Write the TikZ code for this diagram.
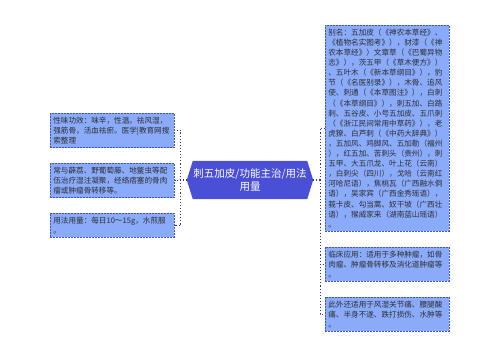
\documentclass[tikz,border=0pt]{standalone}
\usepackage{fontspec}
\newfontfamily\cjk{Noto Sans CJK SC}
\usetikzlibrary{backgrounds}
\definecolor{boxfill}{HTML}{8AAAFA}
\definecolor{boxline}{HTML}{3F55C8}
\definecolor{hubfill}{HTML}{4A4FD6}
\definecolor{linkcol}{HTML}{34387E}
\definecolor{txt}{HTML}{2E2E2E}

\begin{document}
\begin{tikzpicture}[x=1pt,y=-1pt,
  box/.style={anchor=north west,fill=boxfill,draw=boxline,dash pattern=on 2pt off 1pt,line width=0.7pt,
    text width=118pt,inner xsep=3pt,inner ysep=3.5pt,align=left,text=txt,
    font=\cjk\fontsize{7.6pt}{10.1pt}\selectfont},
  hub/.style={minimum width=114pt,minimum height=38pt,inner sep=0pt,align=center,text=white,
    font=\cjk\fontsize{10.5pt}{13.5pt}\selectfont},
  link/.style={draw=linkcol,dotted,line width=1.1pt}]
  \useasboundingbox (0,0) rectangle (500,360);
  \node[hub] (hub) at (250,180) {刺五加皮/功能主治/用法\\用量};
  \coordinate (hw) at ([xshift=-6pt]hub.west);
  \coordinate (he) at ([xshift=6pt]hub.east);
  \begin{scope}[on background layer]
    \fill[hubfill] (hw) -- (hub.north west) -- (hub.north east) -- (he) -- (hub.south east) -- (hub.south west) -- cycle;
  \end{scope}
  \node[box] (l1) at (50,113) {性味功效：味辛，性温。祛风湿，\\强筋骨，活血祛瘀。医学|教育网搜\\索整理};
  \node[box] (l2) at (50,163) {常与薜荔、野葡萄藤、地鳖虫等配\\伍治疗湿注凝聚，经络痞塞的骨肉\\瘤或肿瘤骨转移等。};
  \node[box] (l3) at (50,213) {用法用量：每日10～15g，水煎服\\。};
  \node[box] (r1) at (325,25) {别名：五加皮（《神农本草经》、\\《植物名实图考》），豺漆（《神\\农本草经》）文章草（《巴蜀异物\\志》），茨五甲（《草木便方》）\\、五叶木（《新本草纲目》），豹\\节（《名医别录》），木骨、追风\\使、刺通（《本草图注》），白刺\\（《本草纲目》），刺五加、白路\\刺、五谷皮、小号五加皮、五爪刺\\（《浙江民间常用中草药》），老\\虎獠、白芦刺（《中药大辞典》）\\，五加风、鸡脚风、五加勒（福州\\），红五加、苦刺头（贵州），刺\\五甲、大五爪龙、叶上花（云南）\\，白刺尖（四川），戈哈（云南红\\河哈尼语），焦桃瓦（广西融水侗\\语），吴家宾（广西金秀瑶语），\\莪卡皮、勾当蒿、奴干坡（广西壮\\语），猴威家来（湖南蓝山瑶语）\\。};
  \node[box] (r2) at (325,247) {临床应用：适用于多种肿瘤，如骨\\肉瘤、肿瘤骨转移及消化道肿瘤等\\。};
  \node[box] (r3) at (325,297) {此外还适用于风湿关节痛、腰腿酸\\痛、半身不遂、跌打损伤、水肿等\\。};
  \coordinate (lj) at ([xshift=-6pt]hw);
  \coordinate (rj) at ([xshift=7pt]he);
  \draw[link] (hw) -- (lj);
  \draw[link] (he) -- (rj);
  \foreach \b in {l1,l2,l3} \draw[link] (lj) |- (\b.east);
  \foreach \b in {r1,r2,r3} \draw[link] (rj) |- (\b.west);
\end{tikzpicture}
\end{document}
